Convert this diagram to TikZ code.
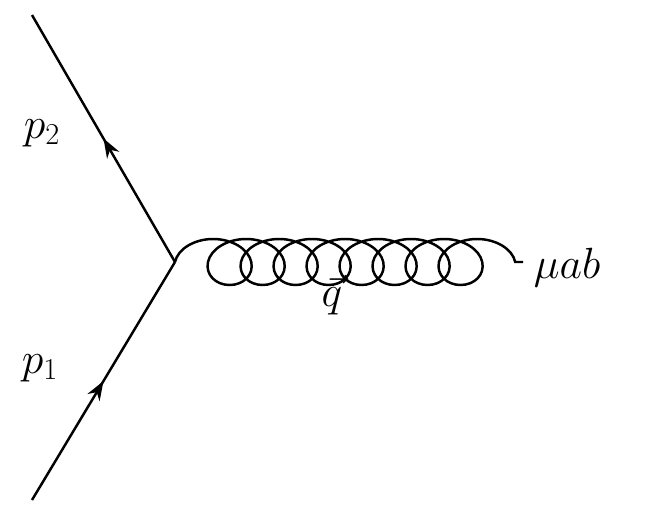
\documentclass[tikz,border=0pt]{standalone}
\usetikzlibrary{decorations.pathmorphing,decorations.markings,arrows.meta}
\tikzset{
  fermion/.style={line width=1.4pt,postaction={decorate},decoration={markings,
    mark=at position 0.5 with {\arrow{Stealth[length=11pt,width=8pt]}}}},
  gluon/.style={line width=1.4pt,decorate,decoration={coil,aspect=1.3,segment length=0.66cm,amplitude=0.46cm,post length=0pt}},
  lbl/.style={font=\fontsize{25}{30}\selectfont}
}
\begin{document}
\begin{tikzpicture}[x=0.02cm,y=-0.02cm]
	\useasboundingbox (0,0) rectangle (664,522);
	\coordinate (v) at (175,262);
	\coordinate (a) at (32,500);
	\coordinate (b) at (32,15);
	\coordinate (g) at (523,262);
	\draw[fermion] (a) -- (v);
	\draw[fermion] (v) -- (b);
	\draw[gluon] (v) -- (g);
	\node[lbl] (p1) at (40,368) {$p_1$};
	\node[lbl] (p2) at (42,133) {$p_2$};
	\node[lbl] (q) at (332,295) {$\vec{q}$};
	\node[lbl] (mu) at (567,268) {$\mu a b$};
\end{tikzpicture}
\end{document}
